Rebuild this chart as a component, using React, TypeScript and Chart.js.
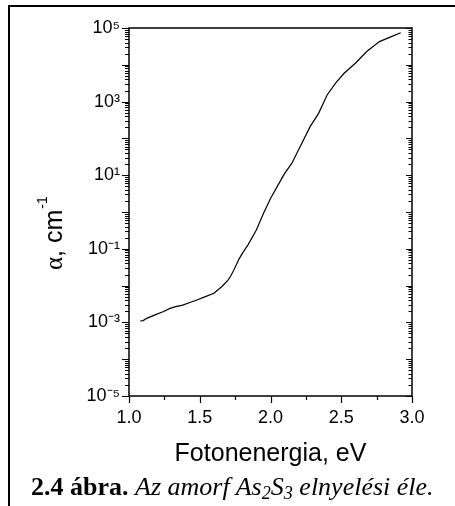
import React, { useEffect, useRef } from "react";
import { Chart, registerables } from "chart.js";

Chart.register(...registerables);

// Photon energy (eV)
const energy = [
  1.08, 1.1, 1.125, 1.18, 1.24, 1.29, 1.33, 1.38, 1.43, 1.48, 1.54, 1.6, 1.655,
  1.7, 1.72, 1.74, 1.76, 1.78, 1.81, 1.84, 1.9, 1.95, 2.0, 2.06, 2.1, 2.15, 2.21,
  2.28, 2.34, 2.4, 2.46, 2.52, 2.6, 2.68, 2.77, 2.85, 2.92,
];
// Absorption coefficient alpha (cm^-1)
const alpha = [
  1.1e-3, 1.12e-3, 1.29e-3, 1.58e-3, 1.95e-3, 2.4e-3, 2.69e-3, 2.95e-3, 3.47e-3,
  4.07e-3, 5.0e-3, 6.17e-3, 9.3e-3, 1.41e-2, 1.85e-2, 2.6e-2, 3.8e-2, 5.5e-2,
  8.5e-2, 0.126, 0.324, 0.91, 2.34, 6.0, 11.2, 20.9, 60, 209, 479, 1510, 3160,
  5890, 1.1e4, 2.29e4, 4.27e4, 5.75e4, 7.4e4,
];

const xTicks = [1.0, 1.5, 2.0, 2.5, 3.0];
const xMinorTicks = [1.25, 1.75, 2.25, 2.75];
const yDecades = [-5, -4, -3, -2, -1, 0, 1, 2, 3, 4, 5];
const yLabelDecades = [5, 3, 1, -1, -3, -5];
const yMinorMantissas = [2, 3, 4, 5, 6, 7, 8, 9];

const xTitle = "Fotonenergia, eV";
const yTitleSymbol = "α";
const yTitleUnit = ", cm";
const yTitleExp = "-1";

const SUP: Record<string, string> = {
  "0": "⁰", "1": "¹", "2": "²", "3": "³", "4": "⁴",
  "5": "⁵", "6": "⁶", "7": "⁷", "8": "⁸", "9": "⁹", "-": "⁻",
};
const toSup = (s: string) => s.split("").map((c) => SUP[c] ?? c).join("");

const SANS = "'Liberation Sans', Arial, sans-serif";
const SERIF = "'Liberation Serif', 'Times New Roman', serif";

const framePlugin = {
  id: "frameAndTicks",
  afterDraw(chart: any) {
    const { ctx, chartArea } = chart;
    const { left, right, top, bottom } = chartArea;
    const x = chart.scales.x;
    const y = chart.scales.y;
    ctx.save();
    ctx.strokeStyle = "#000";
    ctx.lineWidth = 1.5;
    ctx.strokeRect(left, top, right - left, bottom - top);

    ctx.lineWidth = 1.2;
    ctx.beginPath();
    // y ticks (left outward, right inward)
    yDecades.forEach((e) => {
      const pyMaj = Math.round(y.getPixelForValue(Math.pow(10, e))) + 0.5;
      ctx.moveTo(left, pyMaj);
      ctx.lineTo(left - 7, pyMaj);
      ctx.moveTo(right, pyMaj);
      ctx.lineTo(right - 6, pyMaj);
      if (e < 5) {
        yMinorMantissas.forEach((m) => {
          const py = Math.round(y.getPixelForValue(m * Math.pow(10, e))) + 0.5;
          ctx.moveTo(left, py);
          ctx.lineTo(left - 4, py);
          ctx.moveTo(right, py);
          ctx.lineTo(right - 3.5, py);
        });
      }
    });
    // x ticks (outward, down)
    xTicks.forEach((v) => {
      const px = Math.round(x.getPixelForValue(v)) + 0.5;
      ctx.moveTo(px, bottom);
      ctx.lineTo(px, bottom + 7);
    });
    xMinorTicks.forEach((v) => {
      const px = Math.round(x.getPixelForValue(v)) + 0.5;
      ctx.moveTo(px, bottom);
      ctx.lineTo(px, bottom + 4);
    });
    ctx.stroke();

    // x title
    ctx.fillStyle = "#000";
    ctx.font = `25px ${SANS}`;
    ctx.textAlign = "center";
    ctx.textBaseline = "alphabetic";
    ctx.fillText(xTitle, (left + right) / 2, 460.5);

    // y title (rotated)
    ctx.translate(62, 270);
    ctx.rotate(-Math.PI / 2);
    ctx.textAlign = "left";
    ctx.font = `25px ${SERIF}`;
    ctx.fillText(yTitleSymbol, 0, 0);
    const w1 = ctx.measureText(yTitleSymbol).width;
    ctx.font = `25px ${SANS}`;
    ctx.fillText(yTitleUnit, w1, 0);
    const w2 = ctx.measureText(yTitleUnit).width;
    ctx.font = `14px ${SANS}`;
    ctx.fillText(yTitleExp, w1 + w2 + 1, -15);
    ctx.restore();
  },
};

const subStyle: React.CSSProperties = {
  fontSize: "0.7em",
  verticalAlign: "-0.2em",
  lineHeight: 0,
};

export default function App() {
  const canvasRef = useRef<HTMLCanvasElement | null>(null);

  useEffect(() => {
    if (!canvasRef.current) return;
    const chart = new Chart(canvasRef.current, {
      type: "line",
      data: {
        datasets: [
          {
            data: energy.map((e, i) => ({ x: e, y: alpha[i] })),
            borderColor: "#000",
            borderWidth: 1.2,
            pointRadius: 0,
            tension: 0,
            fill: false,
          },
        ],
      },
      options: {
        animation: false,
        responsive: false,
        maintainAspectRatio: false,
        layout: { padding: { left: 0, right: 43, top: 28, bottom: 0 } },
        plugins: { legend: { display: false }, tooltip: { enabled: false } },
        scales: {
          x: {
            type: "linear",
            min: 1,
            max: 3,
            afterBuildTicks: (scale: any) => {
              scale.ticks = xTicks.map((v) => ({ value: v }));
            },
            afterFit: (scale: any) => {
              scale.height = 110;
            },
            grid: {
              display: true,
              drawOnChartArea: false,
              drawTicks: true,
              tickLength: 7,
              tickColor: "rgba(0,0,0,0)",
            },
            border: { display: false },
            ticks: {
              autoSkip: false,
              maxRotation: 0,
              padding: 4,
              color: "#000",
              font: { family: SANS, size: 18 },
              callback: (v: any) => Number(v).toFixed(1),
            },
          },
          y: {
            type: "logarithmic",
            min: 1e-5,
            max: 1e5,
            afterBuildTicks: (scale: any) => {
              scale.ticks = yDecades.map((e) => ({ value: Math.pow(10, e) }));
            },
            afterFit: (scale: any) => {
              scale.width = 129;
            },
            grid: {
              display: true,
              drawOnChartArea: false,
              drawTicks: true,
              tickLength: 7,
              tickColor: "rgba(0,0,0,0)",
            },
            border: { display: false },
            ticks: {
              autoSkip: false,
              padding: 2,
              color: "#000",
              font: { family: SANS, size: 18 },
              callback: (v: any) => {
                const e = Math.round(Math.log10(Number(v)));
                return yLabelDecades.includes(e) ? "10" + toSup(String(e)) : "";
              },
            },
          },
        },
      },
      plugins: [framePlugin],
    });
    return () => chart.destroy();
  }, []);

  return (
    <div style={{ position: "absolute", left: 0, top: 0, width: 455, height: 506 }}>
      <div
        style={{
          position: "absolute",
          left: 8,
          top: 5,
          width: 447,
          height: 501,
          borderLeft: "2px solid #000",
          borderTop: "2px solid #000",
          boxSizing: "border-box",
        }}
      />
      <canvas
        ref={canvasRef}
        width={455}
        height={506}
        style={{ position: "absolute", left: 0, top: 0, width: 455, height: 506 }}
      />
      <div
        style={{
          position: "absolute",
          left: 31,
          top: 474,
          fontFamily: SERIF,
          fontSize: 26,
          lineHeight: "26px",
          whiteSpace: "nowrap",
          color: "#000",
        }}
      >
        <b>2.4 ábra.</b>{" "}
        <i>
          Az amorf As<sub style={subStyle}>2</sub>S<sub style={subStyle}>3</sub> elnyelési éle.
        </i>
      </div>
    </div>
  );
}
